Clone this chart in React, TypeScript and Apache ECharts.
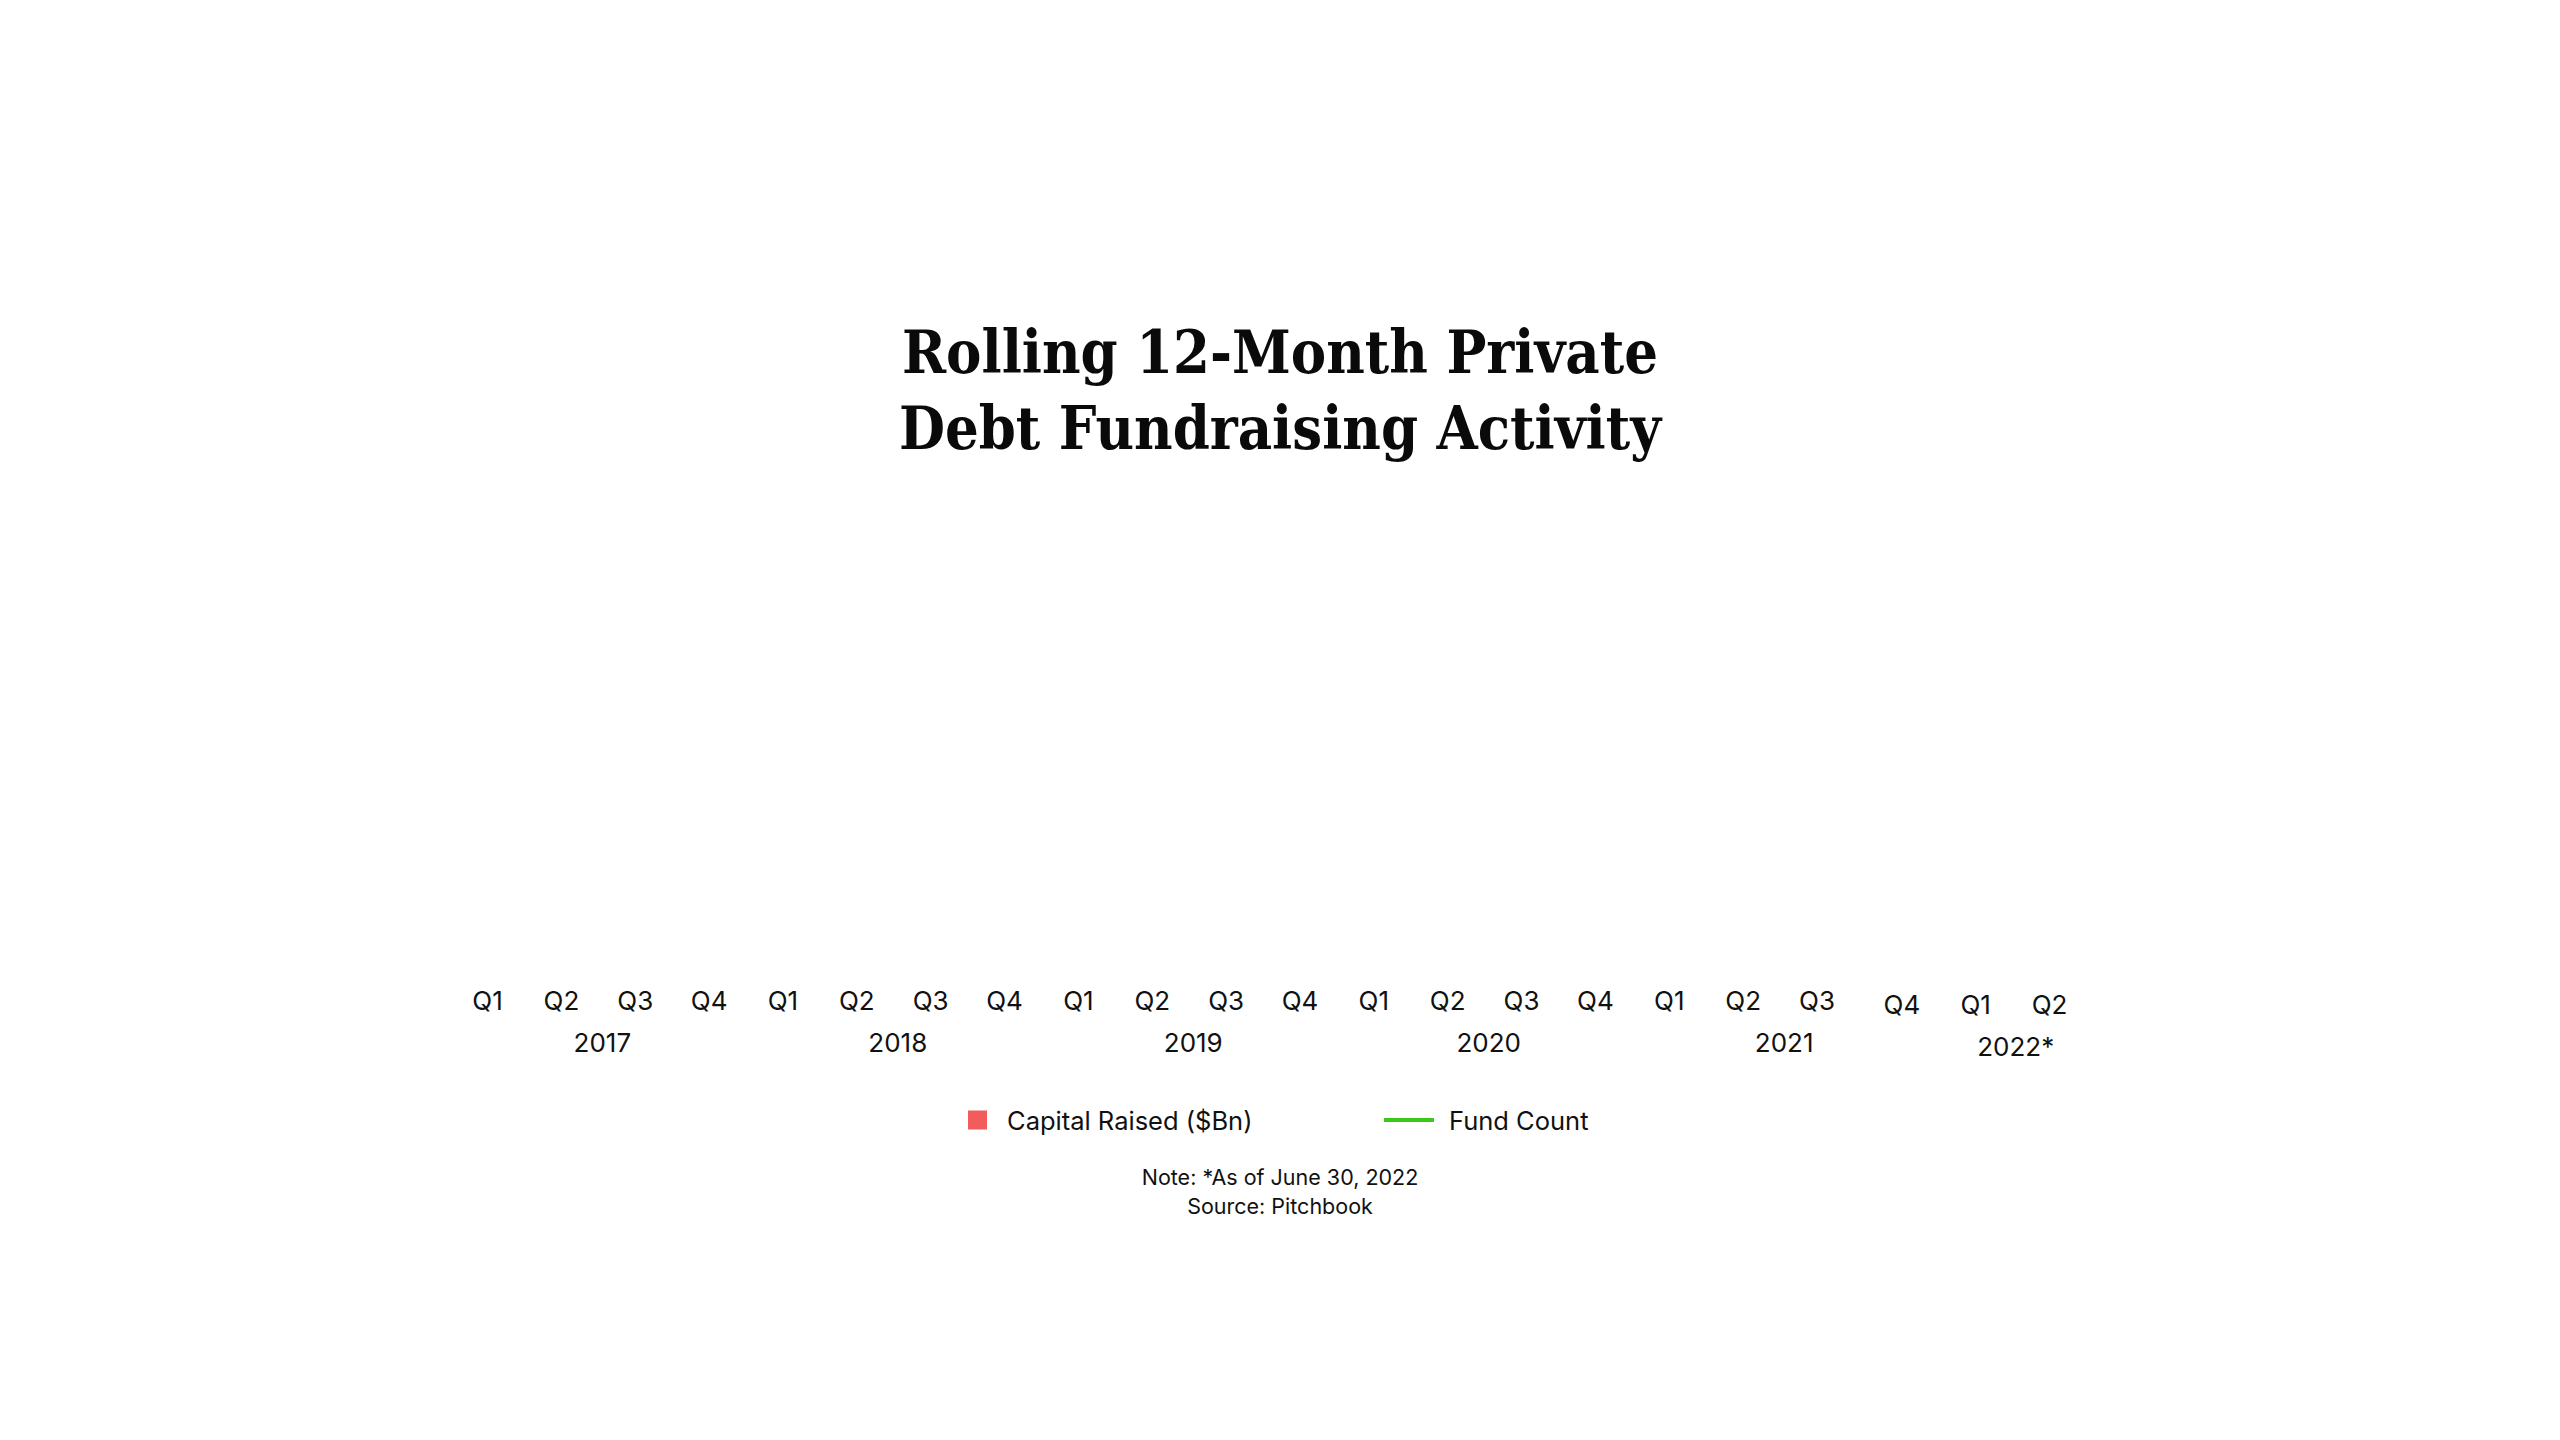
import * as echarts from 'echarts';
import { useEffect, useRef } from 'react';

const years = ['2017', '2018', '2019', '2020', '2021', '2022*'];
const quartersPerYear = [4, 4, 4, 4, 4, 2];
const quarterNames = ['Q1', 'Q2', 'Q3', 'Q4'];
// the reference draws no bars and no line points, only the axis labels and legend
const capitalRaised: number[] = [];
const fundCount: number[] = [];

const categories: string[] = [];
const yearLabelAt: Record<number, string> = {};
years.forEach((year, i) => {
    const start = categories.length;
    const n = quartersPerYear[i];
    quarterNames.slice(0, n).forEach((q) => categories.push(`${q} ${year}`));
    yearLabelAt[start + Math.floor((n - 1) / 2)] = year;
});

const sans = 'Inter, "Noto Sans", sans-serif';

const App = () => {
    const chartRef = useRef<HTMLDivElement>(null);

    useEffect(() => {
        if (!chartRef.current) return;
        const chart = echarts.init(chartRef.current, undefined, { renderer: 'svg' });

        chart.setOption({
            animation: false,
            backgroundColor: '#fff',
            title: [
                {
                    text: 'Rolling 12-Month Private\nDebt Fundraising Activity',
                    left: 'center',
                    top: 314,
                    padding: [0, 10, 0, 0],
                    textStyle: {
                        fontFamily: '"DejaVu Serif Condensed", "DejaVu Serif", serif',
                        fontWeight: 'bold',
                        fontSize: 59,
                        lineHeight: 76,
                        color: '#0a0a0a',
                    },
                },
                {
                    text: 'Note: *As of June 30, 2022\nSource: Pitchbook',
                    left: 'center',
                    top: 1162,
                    padding: 0,
                    textStyle: {
                        fontFamily: sans,
                        fontSize: 21.5,
                        fontWeight: 'normal',
                        lineHeight: 29,
                        color: '#111',
                    },
                },
            ],
            legend: [
                {
                    data: ['Capital Raised ($Bn)'],
                    left: 968,
                    top: 1107,
                    padding: 0,
                    itemWidth: 19,
                    itemHeight: 19,
                    icon: 'rect',
                    textStyle: { fontFamily: sans, fontSize: 25.5, color: '#111', padding: [0, 0, 0, 15] },
                },
                {
                    data: ['Fund Count'],
                    left: 1384,
                    top: 1107,
                    padding: 0,
                    itemWidth: 50,
                    itemHeight: 4,
                    icon: 'rect',
                    textStyle: { fontFamily: sans, fontSize: 25.5, color: '#111', padding: [0, 0, 0, 10] },
                },
            ],
            grid: { left: 450.6, right: 484.5, top: 480, bottom: 463 },
            xAxis: [
                {
                    type: 'category',
                    data: categories,
                    axisLine: { show: false },
                    axisTick: { show: false },
                    axisLabel: {
                        interval: 0,
                        margin: 10,
                        fontFamily: sans,
                        fontSize: 26,
                        color: '#111',
                        formatter: (value: string, index: number) => {
                            const q = value.split(' ')[0];
                            return index >= 19 ? `{late|${q}}` : q;
                        },
                        rich: { late: { padding: [4, 0, 0, 22] } },
                    },
                },
                {
                    type: 'category',
                    data: categories,
                    position: 'bottom',
                    offset: 42,
                    axisLine: { show: false },
                    axisTick: { show: false },
                    axisLabel: {
                        interval: 0,
                        margin: 10,
                        fontFamily: sans,
                        fontSize: 26,
                        color: '#111',
                        formatter: (_: string, index: number) => {
                            const year = yearLabelAt[index];
                            if (!year) return '';
                            return index >= 20 ? `{last|${year}}` : `{yr|${year}}`;
                        },
                        rich: {
                            yr: { padding: [0, 0, 0, 82] },
                            last: { padding: [4, 0, 0, 102] },
                        },
                    },
                },
            ],
            yAxis: [
                { type: 'value', show: false },
                { type: 'value', show: false },
            ],
            series: [
                {
                    name: 'Capital Raised ($Bn)',
                    type: 'bar',
                    data: capitalRaised,
                    itemStyle: { color: '#F25C5C' },
                },
                {
                    name: 'Fund Count',
                    type: 'line',
                    yAxisIndex: 1,
                    data: fundCount,
                    symbol: 'none',
                    itemStyle: { color: '#3DC81E' },
                    lineStyle: { color: '#3DC81E', width: 4 },
                },
            ],
        });

        const onResize = () => chart.resize();
        window.addEventListener('resize', onResize);
        return () => {
            window.removeEventListener('resize', onResize);
            chart.dispose();
        };
    }, []);

    return (
        <div
            ref={chartRef}
            style={{ position: 'absolute', left: 0, top: 0, width: 2560, height: 1440 }}
        />
    );
};

export default App;
